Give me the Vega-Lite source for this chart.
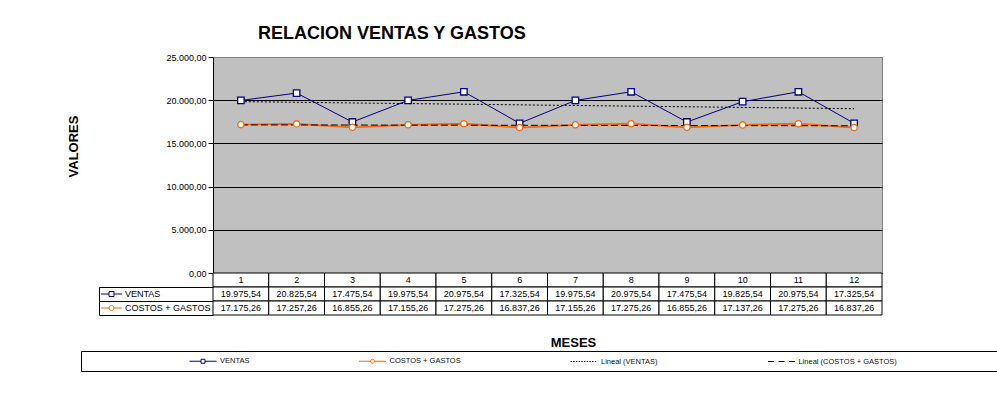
{
  "$schema": "https://vega.github.io/schema/vega-lite/v6.json",
  "background": "white",
  "padding": {"left": 66, "top": 24, "right": 0, "bottom": 0},
  "bounds": "flush",
  "title": {"text": "RELACION VENTAS Y GASTOS", "fontSize": 18, "fontWeight": "bold", "color": "#000000", "anchor": "start", "frame": "group", "dx": 45, "offset": 10},
  "datasets": {
    "tabla": [
      {"mes": 1, "serie": "VENTAS", "valor": 19975.54},
      {"mes": 2, "serie": "VENTAS", "valor": 20825.54},
      {"mes": 3, "serie": "VENTAS", "valor": 17475.54},
      {"mes": 4, "serie": "VENTAS", "valor": 19975.54},
      {"mes": 5, "serie": "VENTAS", "valor": 20975.54},
      {"mes": 6, "serie": "VENTAS", "valor": 17325.54},
      {"mes": 7, "serie": "VENTAS", "valor": 19975.54},
      {"mes": 8, "serie": "VENTAS", "valor": 20975.54},
      {"mes": 9, "serie": "VENTAS", "valor": 17475.54},
      {"mes": 10, "serie": "VENTAS", "valor": 19825.54},
      {"mes": 11, "serie": "VENTAS", "valor": 20975.54},
      {"mes": 12, "serie": "VENTAS", "valor": 17325.54},
      {"mes": 1, "serie": "COSTOS + GASTOS", "valor": 17175.26},
      {"mes": 2, "serie": "COSTOS + GASTOS", "valor": 17257.26},
      {"mes": 3, "serie": "COSTOS + GASTOS", "valor": 16855.26},
      {"mes": 4, "serie": "COSTOS + GASTOS", "valor": 17155.26},
      {"mes": 5, "serie": "COSTOS + GASTOS", "valor": 17275.26},
      {"mes": 6, "serie": "COSTOS + GASTOS", "valor": 16837.26},
      {"mes": 7, "serie": "COSTOS + GASTOS", "valor": 17155.26},
      {"mes": 8, "serie": "COSTOS + GASTOS", "valor": 17275.26},
      {"mes": 9, "serie": "COSTOS + GASTOS", "valor": 16855.26},
      {"mes": 10, "serie": "COSTOS + GASTOS", "valor": 17137.26},
      {"mes": 11, "serie": "COSTOS + GASTOS", "valor": 17275.26},
      {"mes": 12, "serie": "COSTOS + GASTOS", "valor": 16837.26}
    ]
  },
  "data": {"name": "tabla"},
  "spacing": 0,
  "vconcat": [
    {
      "width": 669,
      "height": 216,
      "view": {"fill": "#C0C0C0", "stroke": "#808080", "strokeWidth": 1},
      "encoding": {
        "x": {"field": "mes", "type": "ordinal", "scale": {"type": "point", "padding": 0.5, "domain": [1,2,3,4,5,6,7,8,9,10,11,12]}, "axis": null},
        "y": {"field": "valor", "type": "quantitative", "scale": {"domain": [0, 25000], "nice": false},
          "axis": {"values": [0,5000,10000,15000,20000,25000], "format": ",.2f", "labelFontSize": 9, "labelColor": "#000000", "labelPadding": 2, "tickSize": 5, "tickColor": "#000000", "domainColor": "#000000", "grid": true, "gridColor": {"condition": {"test": "datum.value === 25000", "value": "#808080"}, "value": "#000000"}, "gridOpacity": 1, "title": "VALORES", "titleFontSize": 13, "titleFontWeight": "bold", "titleColor": "#000000", "titleX": -133, "titleY": 89}}
      },
      "layer": [
        {
          "mark": {"type": "line"},
          "encoding": {
            "stroke": {"field": "serie", "type": "nominal", "scale": {"domain": ["VENTAS", "COSTOS + GASTOS"], "range": ["#000080", "#FF6600"]}, "legend": null},
            "strokeWidth": {"field": "serie", "type": "nominal", "scale": {"domain": ["VENTAS", "COSTOS + GASTOS"], "range": [1, 1.8]}, "legend": null}
          }
        },
        {
          "transform": [{"regression": "valor", "on": "mes", "groupby": ["serie"]}],
          "mark": {"type": "line", "stroke": "#000000", "strokeWidth": 1},
          "encoding": {
            "strokeDash": {"field": "serie", "type": "nominal", "scale": {"domain": ["VENTAS", "COSTOS + GASTOS"], "range": [[2, 2], [7, 3]]}, "legend": null}
          }
        },
        {
          "mark": {"type": "point", "filled": true, "fill": "white", "strokeWidth": 1.3, "opacity": 1},
          "encoding": {
            "shape": {"field": "serie", "type": "nominal", "scale": {"domain": ["VENTAS", "COSTOS + GASTOS"], "range": ["square", "circle"]}, "legend": null},
            "stroke": {"field": "serie", "type": "nominal", "scale": {"domain": ["VENTAS", "COSTOS + GASTOS"], "range": ["#000080", "#FF6600"]}, "legend": null},
            "size": {"field": "serie", "type": "nominal", "scale": {"domain": ["VENTAS", "COSTOS + GASTOS"], "range": [42, 40]}, "legend": null}
          }
        }
      ]
    },
    {
      "width": 669,
      "height": 14,
      "transform": [{"filter": "datum.serie === 'VENTAS'"}],
      "encoding": {
        "x": {"field": "mes", "type": "ordinal", "scale": {"type": "band", "paddingInner": 0, "paddingOuter": 0, "domain": [1,2,3,4,5,6,7,8,9,10,11,12]}, "axis": null}
      },
      "layer": [
        {"mark": {"type": "rect", "fill": "white", "stroke": "#000000", "strokeWidth": 1}},
        {"mark": {"type": "text", "fontSize": 9, "color": "#000000"}, "encoding": {"text": {"field": "mes", "type": "ordinal"}}},
        {
          "mark": {"type": "point", "opacity": 0},
          "encoding": {
            "shape": {"field": "serie", "type": "nominal",
              "scale": {"domain": ["VENTAS", "COSTOS + GASTOS", "Lineal (VENTAS)", "Lineal (COSTOS + GASTOS)"],
                "range": [
                  "M-3.375,0H-0.5M0.5,0H3.375M-0.5,-0.5H0.5V0.5H-0.5Z",
                  "M-3.375,0H-0.5M0.5,0H3.375M0.5,0A0.5,0.5,0,1,1,-0.5,0A0.5,0.5,0,1,1,0.5,0",
                  "M-3.375,0h0.35M-2.7,0h0.35M-2.025,0h0.35M-1.35,0h0.35M-0.675,0h0.35M0,0h0.35M0.675,0h0.35M1.35,0h0.35M2.025,0h0.35M2.7,0h0.35",
                  "M-3.375,0H-1.875M-0.75,0H0.75M1.875,0H3.375"
                ]},
              "legend": {"orient": "none", "legendX": -132, "legendY": 78, "direction": "horizontal", "title": " ", "titleOrient": "left", "titlePadding": 112, "titleFontSize": 7.5, "padding": 5.5, "strokeColor": "#000000", "fillColor": "white", "symbolSize": 64, "symbolStrokeWidth": 1, "symbolOpacity": 1, "labelFontSize": 7.5, "labelColor": "#111111", "labelOffset": 12.5, "columnPadding": 107.5, "labelLimit": 400,
                "labelExpr": "datum.label === 'Lineal (COSTOS + GASTOS)' ? datum.label + '\u00a0\u00a0\u00a0\u00a0\u00a0\u00a0\u00a0\u00a0\u00a0\u00a0\u00a0\u00a0\u00a0\u00a0\u00a0\u00a0\u00a0\u00a0\u00a0\u00a0\u00a0\u00a0\u00a0\u00a0\u00a0\u00a0\u00a0\u00a0\u00a0\u00a0\u00a0\u00a0\u00a0\u00a0\u00a0\u00a0\u00a0\u00a0\u00a0\u00a0\u00a0\u00a0\u00a0\u00a0\u2800' : datum.label"}},
            "stroke": {"field": "serie", "type": "nominal",
              "scale": {"domain": ["VENTAS", "COSTOS + GASTOS", "Lineal (VENTAS)", "Lineal (COSTOS + GASTOS)"], "range": ["#000080", "#FF6600", "#000000", "#000000"]},
              "legend": {"orient": "none", "legendX": -132, "legendY": 78, "direction": "horizontal", "title": " ", "titleOrient": "left", "titlePadding": 112, "titleFontSize": 7.5, "padding": 5.5, "strokeColor": "#000000", "fillColor": "white", "symbolSize": 64, "symbolStrokeWidth": 1, "symbolOpacity": 1, "labelFontSize": 7.5, "labelColor": "#111111", "labelOffset": 12.5, "columnPadding": 107.5, "labelLimit": 400,
                "labelExpr": "datum.label === 'Lineal (COSTOS + GASTOS)' ? datum.label + '\u00a0\u00a0\u00a0\u00a0\u00a0\u00a0\u00a0\u00a0\u00a0\u00a0\u00a0\u00a0\u00a0\u00a0\u00a0\u00a0\u00a0\u00a0\u00a0\u00a0\u00a0\u00a0\u00a0\u00a0\u00a0\u00a0\u00a0\u00a0\u00a0\u00a0\u00a0\u00a0\u00a0\u00a0\u00a0\u00a0\u00a0\u00a0\u00a0\u00a0\u00a0\u00a0\u00a0\u00a0\u2800' : datum.label"}}
          }
        }
      ]
    },
    {
      "width": 669,
      "height": 28,
      "encoding": {
        "x": {"field": "mes", "type": "ordinal", "scale": {"type": "band", "paddingInner": 0, "paddingOuter": 0, "domain": [1,2,3,4,5,6,7,8,9,10,11,12]},
          "axis": {"title": "MESES", "labels": false, "ticks": false, "domain": false, "titleFontSize": 13, "titleFontWeight": "bold", "titleColor": "#000000", "titlePadding": 21, "titleX": 360}}
      },
      "layer": [
        {
          "mark": {"type": "rect", "fill": "white", "stroke": "#000000", "strokeWidth": 1},
          "encoding": {
            "y": {"field": "serie", "type": "nominal", "scale": {"type": "band", "domain": ["VENTAS", "COSTOS + GASTOS"], "paddingInner": 0, "paddingOuter": 0},
              "axis": {"orient": "left", "title": null, "labels": false, "domain": false, "ticks": true, "bandPosition": 0, "tickSize": 114, "tickColor": "#000000", "grid": false}}
          }
        },
        {
          "mark": {"type": "text", "fontSize": 9, "color": "#000000"},
          "encoding": {
            "y": {"field": "serie", "type": "nominal", "scale": {"type": "band", "domain": ["VENTAS", "COSTOS + GASTOS"], "paddingInner": 0, "paddingOuter": 0},
              "axis": {"orient": "left", "title": null, "labels": false, "offset": 114, "domain": true, "domainColor": "#000000", "ticks": true, "bandPosition": 1, "tickSize": -114, "tickColor": "#000000", "grid": false}},
            "text": {"field": "valor", "type": "quantitative", "format": ",.2f"}
          }
        },
        {
          "mark": {"type": "point", "opacity": 0},
          "encoding": {
            "y": {"field": "serie", "type": "nominal", "scale": {"type": "band", "domain": ["VENTAS", "COSTOS + GASTOS"], "paddingInner": 0, "paddingOuter": 0}, "axis": null},
            "shape": {"field": "serie", "type": "nominal",
              "scale": {"domain": ["VENTAS", "COSTOS + GASTOS"],
                "range": [
                  "M-3.5,0H-0.83M0.83,0H3.5M-0.83,-0.83H0.83V0.83H-0.83Z",
                  "M-3.5,0H-0.83M0.83,0H3.5M0.83,0A0.83,0.83,0,1,1,-0.83,0A0.83,0.83,0,1,1,0.83,0"
                ]},
              "legend": {"orient": "none", "legendX": -106, "legendY": 2.5, "direction": "vertical", "title": null, "padding": 0, "symbolSize": 36, "symbolStrokeWidth": 1, "symbolOpacity": 1, "labelFontSize": 9, "labelColor": "#000000", "labelOffset": 9, "rowPadding": 4, "labelLimit": 200}},
            "stroke": {"field": "serie", "type": "nominal",
              "scale": {"domain": ["VENTAS", "COSTOS + GASTOS"], "range": ["#000080", "#FF6600"]},
              "legend": {"orient": "none", "legendX": -106, "legendY": 2.5, "direction": "vertical", "title": null, "padding": 0, "symbolSize": 36, "symbolStrokeWidth": 1, "symbolOpacity": 1, "labelFontSize": 9, "labelColor": "#000000", "labelOffset": 9, "rowPadding": 4, "labelLimit": 200}}
          }
        }
      ],
      "resolve": {"scale": {"y": "independent"}, "axis": {"y": "independent"}}
    }
  ],
  "resolve": {
    "scale": {"shape": "independent", "stroke": "independent", "strokeDash": "independent", "strokeWidth": "independent", "size": "independent"},
    "legend": {"shape": "independent", "stroke": "independent"}
  },
  "config": {
    "font": "Liberation Sans",
    "view": {"stroke": null},
    "axis": {"labelFont": "Liberation Sans", "titleFont": "Liberation Sans"},
    "legend": {"labelFont": "Liberation Sans", "titleFont": "Liberation Sans"},
    "title": {"font": "Liberation Sans"},
    "text": {"font": "Liberation Sans"},
    "locale": {"number": {"decimal": ",", "thousands": ".", "grouping": [3], "currency": ["", " €"]}}
  }
}
